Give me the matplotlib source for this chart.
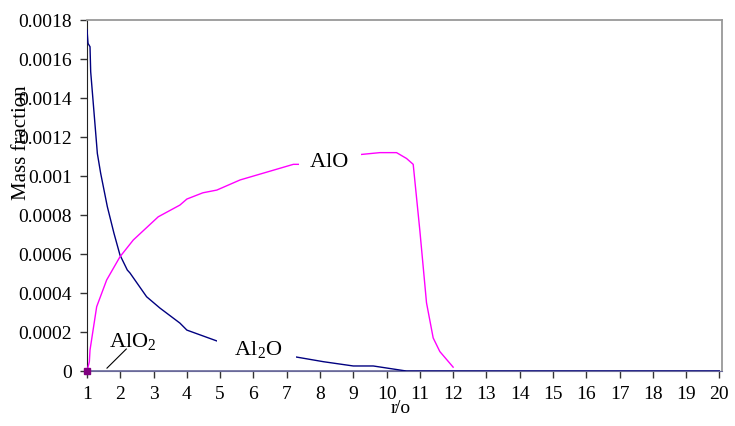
import matplotlib.pyplot as plt

plt.rcParams['font.family'] = ['Liberation Serif', 'DejaVu Serif']
plt.rcParams['mathtext.fontset'] = 'custom'
plt.rcParams['mathtext.rm'] = 'Liberation Serif'

# Al2O (navy)
al2o_x = [1.0, 1.03, 1.09, 1.11, 1.29, 1.31, 1.41, 1.61, 1.81, 1.99, 2.21, 2.29,
          2.79, 3.19, 3.79, 4.0, 4.97, 7.25, 8.1, 9.0, 9.6, 10.6, 20.0]
al2o_y = [0.00175, 0.00168, 0.001663, 0.001535, 0.001159, 0.001116, 0.001014,
          0.000843, 0.000706, 0.000595, 0.000518, 0.000503, 0.000381, 0.000323,
          0.000246, 0.00021, 0.00015, 0.000073, 0.000048, 0.000026, 0.000026,
          0.0, 0.0]

# AlO (magenta)
alo_x = [1.0, 1.07, 1.09, 1.29, 1.59, 1.99, 2.39, 3.14, 3.79, 4.0, 4.48, 4.9,
         5.6, 6.2, 6.8, 7.2, 7.4, 9.2, 9.8, 10.3, 10.6, 10.8, 11.0, 11.2, 11.4,
         11.6, 12.0]
alo_y = [0.0, 0.000048, 0.000108, 0.00033, 0.000467, 0.000586, 0.000672,
         0.000791, 0.000851, 0.000882, 0.000914, 0.000928, 0.00098, 0.00101,
         0.00104, 0.00106, 0.00106, 0.00111, 0.00112, 0.00112, 0.00109,
         0.00106, 0.00072, 0.00035, 0.00017, 0.0001, 0.00002]

# AlO2 (stays at zero)
alo2_x = [1.0, 20.0]
alo2_y = [0.0, 0.0]

x_ticks = list(range(1, 21))
y_ticks = [0, 0.0002, 0.0004, 0.0006, 0.0008, 0.001, 0.0012, 0.0014, 0.0016, 0.0018]
y_labels = ['0', '0.0002', '0.0004', '0.0006', '0.0008', '0.001', '0.0012',
            '0.0014', '0.0016', '0.0018']

fig = plt.figure(figsize=(7.35, 4.26), dpi=100)
ax = fig.add_axes([0.1184, 0.129, 0.864, 0.824])

ax.plot(alo2_x, alo2_y, color='#6a6a9a', lw=1.2, zorder=2)
ax.plot(al2o_x, al2o_y, color='#000080', lw=1.0, zorder=3)
ax.plot(alo_x, alo_y, color='#ff00ff', lw=1.0, zorder=3)
ax.plot([1.0], [0.0], marker='s', ms=4, color='#800080', zorder=4, clip_on=False)

ax.set_xlim(1, 20.08)
ax.set_ylim(0, 0.0018)
ax.set_xticks(x_ticks)
ax.set_xticklabels([str(v) for v in x_ticks], fontsize=14)
ax.set_yticks(y_ticks)
ax.set_yticklabels(y_labels, fontsize=14)
ax.tick_params(axis='both', direction='out', length=5, width=1, color='#333333', pad=6)

for s in ['top', 'right']:
    ax.spines[s].set_color('#999999')
    ax.spines[s].set_linewidth(1.3)
ax.spines['left'].set_color('#222222')
ax.spines['bottom'].set_color('#6a6a9a')

ax.set_ylabel('Mass fraction', fontsize=15)
ax.yaxis.set_label_coords(-0.088, 0.65)
fig.text(0.536, 0.02, 'r', fontsize=14, ha='center', va='bottom')
fig.text(0.538, 0.02, '/o', fontsize=14, ha='left', va='bottom')

box = dict(facecolor='white', edgecolor='none', pad=1)
ax.text(8.3, 0.00107, '  AlO  ', fontsize=16, ha='center', va='center', bbox=box, zorder=5)
ax.text(6.1, 0.000108, '   Al$_\\mathrm{2}$O   ', fontsize=16, ha='center', va='center',
        bbox=box, zorder=5)
ax.text(1.66, 0.00015, 'AlO$_\\mathrm{2}$', fontsize=16, ha='left', va='center', zorder=5)
ax.plot([1.6, 2.18], [0.000015, 0.000113], color='black', lw=0.8, zorder=5)

fig.savefig('out.png', dpi=100)
